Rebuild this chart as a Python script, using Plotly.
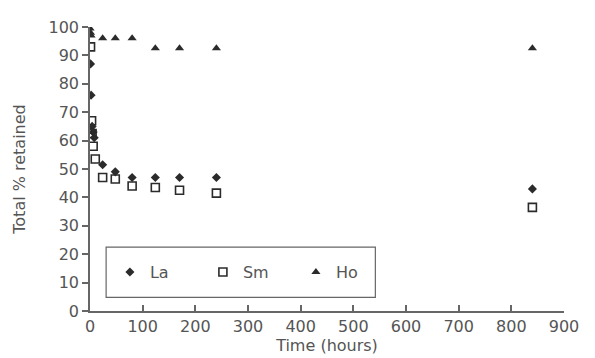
import plotly.graph_objects as go

# Data
la_t = [1, 2, 4, 6, 8, 24, 48, 80, 124, 170, 240, 840]
la_y = [87, 76, 65, 63, 61, 51.5, 49, 47, 47, 47, 47, 43]

sm_t = [1, 3, 4, 6, 10, 24, 48, 80, 124, 170, 240, 840]
sm_y = [93, 67, 62.5, 58, 53.5, 47, 46.5, 44, 43.5, 42.5, 41.5, 36.5]

ho_t = [0, 1, 2, 24, 48, 80, 124, 170, 240, 840]
ho_y = [99.5, 98, 97, 96, 96, 96, 92.5, 92.5, 92.5, 92.5]

x_ticks = [0, 100, 200, 300, 400, 500, 600, 700, 800, 900]
y_ticks = [0, 10, 20, 30, 40, 50, 60, 70, 80, 90, 100]

mk = "#2b2b2b"
axis_c = "#666666"
txt_c = "#555555"

fig = go.Figure()
fig.add_trace(go.Scatter(x=la_t, y=la_y, mode="markers", name="La",
                         marker=dict(symbol="diamond", size=7, color=mk)))
fig.add_trace(go.Scatter(x=sm_t, y=sm_y, mode="markers", name="Sm",
                         marker=dict(symbol="square-open", size=8, color=mk,
                                     line=dict(width=1.6, color=mk))))
fig.add_trace(go.Scatter(x=ho_t, y=ho_y, mode="markers", name="Ho",
                         marker=dict(symbol="triangle-up", size=8, color=mk)))

font = dict(family="DejaVu Sans, Arial, sans-serif", size=16, color=txt_c)

fig.update_layout(
    width=595, height=358,
    margin=dict(l=81, r=39, t=10, b=55),
    paper_bgcolor="white", plot_bgcolor="white",
    font=font,
    showlegend=True,
    legend=dict(orientation="h", x=0.042, y=0.137, xanchor="left", yanchor="middle",
                bgcolor="rgba(0,0,0,0)", borderwidth=0,
                font=font,
                entrywidth=48, entrywidthmode="pixels"),
    shapes=[dict(type="rect", xref="paper", yref="paper",
                 x0=0.034, x1=0.602, y0=0.048, y1=0.225,
                 line=dict(color=axis_c, width=1.2), fillcolor="rgba(0,0,0,0)")],
)

fig.update_xaxes(range=[0, 900], tickvals=x_ticks, ticktext=[str(v) for v in x_ticks],
                 showgrid=False, zeroline=False, showline=True, linecolor=axis_c, linewidth=1.5,
                 ticks="inside", ticklen=6, tickcolor=axis_c, tickwidth=1.5,
                 title=dict(text="Time (hours)", standoff=4, font=font),
                 tickfont=font)
fig.update_yaxes(range=[0, 100], tickvals=y_ticks, ticktext=[str(v) for v in y_ticks],
                 showgrid=False, zeroline=False, showline=True, linecolor=axis_c, linewidth=1.5,
                 ticks="outside", ticklen=6, tickcolor=axis_c, tickwidth=1.5,
                 title=dict(text="Total % retained", standoff=19, font=font),
                 tickfont=font)

fig.write_html("out.html")
